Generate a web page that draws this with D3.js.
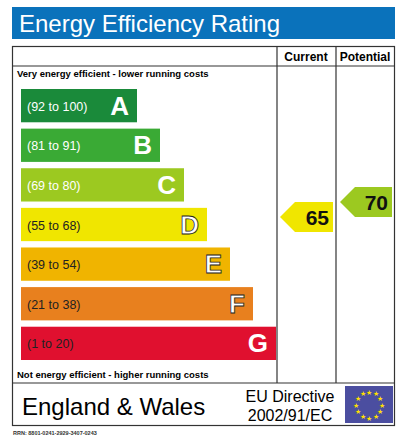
<!DOCTYPE html>
<html><head><meta charset="utf-8">
<script src="https://cdn.jsdelivr.net/npm/d3@7"></script>
<style>body{margin:0;background:#fff}</style></head>
<body><svg id="chart" width="412" height="437"></svg>
<script>
const BANDS = ["A","B","C","D","E","F","G"];
const RANGES = ["(92 to 100)","(81 to 91)","(69 to 80)","(55 to 68)","(39 to 54)","(21 to 38)","(1 to 20)"];
const WIDTHS = [116,139,163,186,209,232,255];
const COLORS = ["#1a8a3a","#3aaa35","#9cc920","#f0e600","#f0b400","#e8801e","#e0102f"];
const CURRENT = 65, POTENTIAL = 70;

const svg = d3.select("#chart");
const FONT = "Liberation Sans, Arial, sans-serif";
const yBand = d3.scaleBand().domain(BANDS).range([89, 360]).paddingInner(0.16);
const yVal = d3.scaleLinear().domain([65, 70]).range([217, 202]);

svg.append("rect").attr("x",12).attr("y",7).attr("width",383).attr("height",32).attr("fill","#0a72bb");
svg.append("text").attr("x",19).attr("y",32).attr("fill","#fff").attr("font-family",FONT).attr("font-size",24).text("Energy Efficiency Rating");

const g = svg.append("g").attr("stroke","#333").attr("stroke-width",1.2).attr("fill","none");
g.append("rect").attr("x",12.5).attr("y",46.5).attr("width",382).attr("height",379);
[[12,66,395,66],[12,383,395,383],[277,46,277,383],[336,46,336,383]].forEach(d=>
  g.append("line").attr("x1",d[0]).attr("y1",d[1]).attr("x2",d[2]).attr("y2",d[3]));

svg.append("text").attr("x",306).attr("y",61).attr("text-anchor","middle").attr("font-family",FONT).attr("font-weight","bold").attr("font-size",12).text("Current");
svg.append("text").attr("x",365).attr("y",61).attr("text-anchor","middle").attr("font-family",FONT).attr("font-weight","bold").attr("font-size",12).text("Potential");
svg.append("text").attr("x",17).attr("y",77).attr("font-family",FONT).attr("font-weight","bold").attr("font-size",9.5).text("Very energy efficient - lower running costs");
svg.append("text").attr("x",17).attr("y",378).attr("font-family",FONT).attr("font-weight","bold").attr("font-size",9.5).text("Not energy efficient - higher running costs");

const band = svg.selectAll("g.band").data(BANDS).enter().append("g").attr("class","band");
band.append("rect").attr("x",21).attr("y",d=>yBand(d)).attr("height",yBand.bandwidth())
  .attr("width",(d,i)=>WIDTHS[i]).attr("fill",(d,i)=>COLORS[i]);
band.append("text").attr("x",27).attr("y",d=>yBand(d)+yBand.bandwidth()/2+5)
  .attr("font-family",FONT).attr("font-size",12.5).attr("fill",(d,i)=>i<3?"#fff":"#222").text((d,i)=>RANGES[i]);
band.append("text").attr("x",(d,i)=>21+WIDTHS[i]-8).attr("y",d=>yBand(d)+yBand.bandwidth()/2+9)
  .attr("text-anchor","end").attr("font-family",FONT).attr("font-weight","bold").attr("font-size",26)
  .attr("fill","#fff").attr("stroke",(d,i)=>i>=3&&i<6?"#222":"none").attr("stroke-width",0.8).text(d=>d);

function arrow(x0, x1, v, color){
  const cy = yVal(v), h = 15;
  svg.append("path").attr("d",`M${x0},${cy}L${x0+15},${cy-h}L${x1},${cy-h}L${x1},${cy+h}L${x0+15},${cy+h}Z`).attr("fill",color);
  svg.append("text").attr("x",x1-4).attr("y",cy+8).attr("text-anchor","end").attr("font-family",FONT)
    .attr("font-weight","bold").attr("font-size",21).attr("fill","#111").text(v);
}
arrow(280,333,CURRENT,"#f0e600");
arrow(340,392,POTENTIAL,"#9cc920");

svg.append("text").attr("x",22).attr("y",415).attr("font-family",FONT).attr("font-size",24).text("England & Wales");
svg.append("text").attr("x",290).attr("y",402).attr("text-anchor","middle").attr("font-family",FONT).attr("font-size",16).text("EU Directive");
svg.append("text").attr("x",290).attr("y",421).attr("text-anchor","middle").attr("font-family",FONT).attr("font-size",16).text("2002/91/EC");
svg.append("rect").attr("x",345).attr("y",386).attr("width",48).attr("height",37).attr("fill","#4b4ea0");
d3.range(12).forEach(i=>{
  const a = i*Math.PI/6;
  svg.append("text").attr("x",369+13*Math.cos(a)).attr("y",405+13*Math.sin(a)+2.5).attr("text-anchor","middle")
    .attr("font-size",7).attr("fill","#ffe000").text("★");
});
svg.append("text").attr("x",13).attr("y",435).attr("font-family",FONT).attr("font-weight","bold").attr("font-size",5.5).attr("fill","#333").text("RRN: 8801-0241-2929-3407-0243");
</script></body></html>
